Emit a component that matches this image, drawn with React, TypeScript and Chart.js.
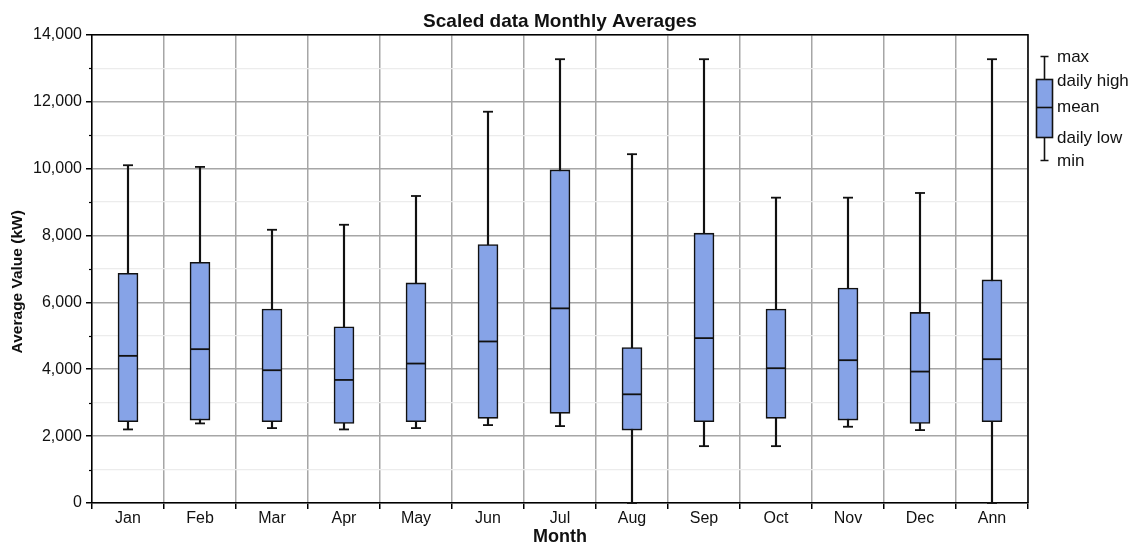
import { useEffect, useRef } from 'react';
import { Chart, registerables } from 'chart.js';

Chart.register(...registerables);

const categories = ['Jan', 'Feb', 'Mar', 'Apr', 'May', 'Jun', 'Jul', 'Aug', 'Sep', 'Oct', 'Nov', 'Dec', 'Ann'];
const maxVals = [10100, 10050, 8170, 8320, 9180, 11700, 13270, 10430, 13270, 9130, 9130, 9270, 13270];
const highVals = [6870, 7200, 5800, 5270, 6580, 7730, 9960, 4650, 8070, 5800, 6430, 5700, 6670];
const meanVals = [4400, 4600, 3970, 3680, 4170, 4830, 5820, 3250, 4930, 4030, 4270, 3930, 4300];
const lowVals = [2430, 2480, 2430, 2380, 2430, 2530, 2680, 2180, 2430, 2530, 2480, 2380, 2430];
const minVals = [2200, 2380, 2240, 2200, 2240, 2330, 2300, 0, 1700, 1700, 2280, 2180, 0];
const legendLabels = ['max', 'daily high', 'mean', 'daily low', 'min'];

const FONT = "'Liberation Sans', Arial, sans-serif";
const BOX_FILL = '#86a3e7';
const INK = '#111111';
const GRID_MAJOR = '#a6a6a6';
const GRID_MINOR = '#ececec';

const framePlugin = {
  id: 'frameAndLegend',
  afterDraw(chart: any) {
    const { ctx, chartArea } = chart;
    const y = chart.scales.y;
    ctx.save();
    // top & right frame
    ctx.strokeStyle = '#000';
    ctx.lineWidth = 1.5;
    ctx.beginPath();
    ctx.moveTo(chartArea.left, chartArea.top);
    ctx.lineTo(chartArea.right, chartArea.top);
    ctx.lineTo(chartArea.right, chartArea.bottom);
    ctx.stroke();
    // minor tick marks
    ctx.lineWidth = 1.2;
    for (let v = 1000; v < 14000; v += 2000) {
      const py = Math.round(y.getPixelForValue(v)) + 0.5;
      ctx.beginPath();
      ctx.moveTo(chartArea.left - 3, py);
      ctx.lineTo(chartArea.left, py);
      ctx.stroke();
    }
    // legend
    const lx = 1044.5;
    const capY1 = 56.5, boxTop = 79.5, meanY = 107.5, boxBot = 137.5, capY2 = 160.5;
    ctx.strokeStyle = INK;
    ctx.lineWidth = 1.6;
    ctx.beginPath();
    ctx.moveTo(lx, capY1);
    ctx.lineTo(lx, capY2);
    ctx.moveTo(lx - 4, capY1);
    ctx.lineTo(lx + 4, capY1);
    ctx.moveTo(lx - 4, capY2);
    ctx.lineTo(lx + 4, capY2);
    ctx.stroke();
    ctx.fillStyle = BOX_FILL;
    ctx.fillRect(1036.5, boxTop, 16, boxBot - boxTop);
    ctx.strokeRect(1036.5, boxTop, 16, boxBot - boxTop);
    ctx.beginPath();
    ctx.moveTo(1036.5, meanY);
    ctx.lineTo(1052.5, meanY);
    ctx.stroke();
    ctx.fillStyle = INK;
    ctx.font = `17px ${FONT}`;
    ctx.textBaseline = 'middle';
    ctx.textAlign = 'left';
    const ys = [57, 81, 107, 138, 161];
    legendLabels.forEach((t, i) => ctx.fillText(t, 1057, ys[i]));
    ctx.restore();
  },
};

export default function App() {
  const ref = useRef<HTMLCanvasElement>(null);
  useEffect(() => {
    const canvas = ref.current!;
    const chart = new Chart(canvas, {
      type: 'bar',
      data: {
        labels: categories,
        datasets: [
          {
            type: 'line',
            label: 'mean',
            data: meanVals,
            showLine: false,
            pointStyle: 'line',
            pointRadius: 10,
            pointHoverRadius: 10,
            pointBorderWidth: 1.8,
            borderColor: INK,
            backgroundColor: INK,
            order: 0,
            clip: false,
          } as any,
          {
            label: 'box',
            data: categories.map((_, i) => [lowVals[i], highVals[i]]),
            backgroundColor: BOX_FILL,
            borderColor: INK,
            borderWidth: 1.6,
            borderSkipped: false,
            barThickness: 20,
            grouped: false,
            order: 1,
          } as any,
          {
            type: 'line',
            label: 'max',
            data: maxVals,
            showLine: false,
            pointStyle: 'line',
            pointRadius: 5,
            pointHoverRadius: 5,
            pointBorderWidth: 1.8,
            borderColor: INK,
            backgroundColor: INK,
            order: 2,
            clip: false,
          } as any,
          {
            type: 'line',
            label: 'min',
            data: minVals,
            showLine: false,
            pointStyle: 'line',
            pointRadius: 5,
            pointHoverRadius: 5,
            pointBorderWidth: 1.8,
            borderColor: INK,
            backgroundColor: INK,
            order: 2,
            clip: false,
          } as any,
          {
            label: 'whisker',
            data: categories.map((_, i) => [minVals[i], maxVals[i]]),
            backgroundColor: INK,
            borderWidth: 0,
            barThickness: 1.5,
            grouped: false,
            order: 3,
          } as any,
        ],
      },
      options: {
        responsive: false,
        animation: false,
        layout: { padding: { left: 0, right: 104, top: 0, bottom: 0 } },
        plugins: {
          legend: { display: false },
          tooltip: { enabled: false },
          title: {
            display: true,
            text: 'Scaled data Monthly Averages',
            color: INK,
            font: { family: FONT, size: 19, weight: 'bold', lineHeight: 1.2 },
            padding: { top: 10, bottom: 2 },
            fullSize: false,
          },
        },
        scales: {
          x: {
            offset: true,
            afterFit: (s: any) => { s.height = 43; },
            grid: {
              offset: true,
              color: GRID_MAJOR,
              lineWidth: 1.5,
              tickColor: '#000',
              tickLength: 6,
              tickWidth: 1.5,
            },
            border: { display: true, color: '#000', width: 1.5 },
            ticks: {
              color: INK,
              font: { family: FONT, size: 16 },
              padding: 0,
              maxRotation: 0,
              autoSkip: false,
            },
            title: {
              display: true,
              text: 'Month',
              color: INK,
              font: { family: FONT, size: 18, weight: 'bold', lineHeight: 1.0 },
              padding: { top: 0, bottom: 0 },
            },
          },
          y: {
            min: 0,
            max: 14000,
            afterFit: (s: any) => { s.width = 92; },
            grid: {
              color: (c: any) => (c.tick && c.tick.value % 2000 === 0 ? GRID_MAJOR : GRID_MINOR),
              lineWidth: (c: any) => (c.tick && c.tick.value % 2000 === 0 ? 1.5 : 1.2),
              tickColor: (c: any) => (c.tick && c.tick.value % 2000 === 0 ? '#000' : 'rgba(0,0,0,0)'),
              tickLength: 6,
              tickWidth: 1.5,
            },
            border: { display: true, color: '#000', width: 1.5 },
            ticks: {
              stepSize: 1000,
              autoSkip: false,
              color: INK,
              font: { family: FONT, size: 16 },
              padding: 4,
              callback: (v: any) => (Number(v) % 2000 === 0 ? Number(v).toLocaleString('en-US') : ''),
            },
            title: {
              display: true,
              text: 'Average Value (kW)      ',
              color: INK,
              font: { family: FONT, size: 15.5, weight: 'bold', lineHeight: 1.2 },
              padding: { top: 8, bottom: 0 },
            },
          },
        },
      },
      plugins: [framePlugin],
    });
    return () => chart.destroy();
  }, []);
  return (
    <canvas
      ref={ref}
      width={1132}
      height={546}
      style={{ position: 'fixed', left: 0, top: 0, width: 1132, height: 546, display: 'block', background: '#fff' }}
    />
  );
}
